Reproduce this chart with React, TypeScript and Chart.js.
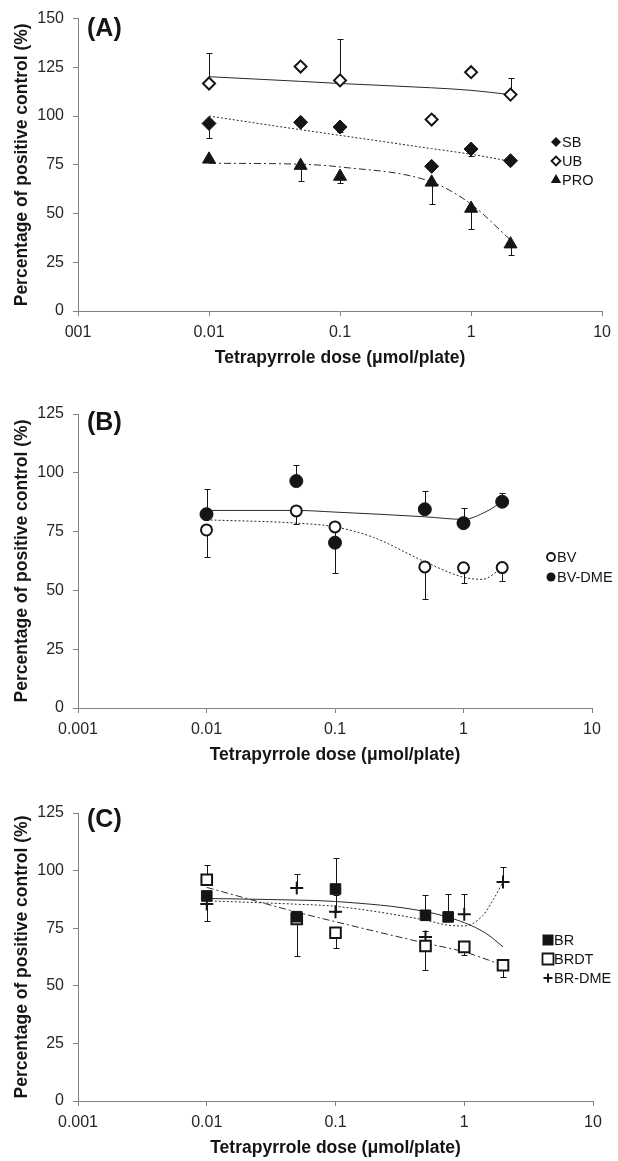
import React, { useEffect, useRef } from 'react';
import { Chart, registerables } from 'chart.js';
Chart.register(...registerables);

type Err = [number, number] | null;

const FONT = "'Liberation Sans', Arial, Helvetica, sans-serif";

// ---------- shared axis data ----------
const xTickValues = [0.001, 0.01, 0.1, 1, 10];
const xTickLabelsA = ['001', '0.01', '0.1', '1', '10'];
const xTickLabelsBC = ['0.001', '0.01', '0.1', '1', '10'];
const xTitle = 'Tetrapyrrole dose (μmol/plate)';
const yTitle = 'Percentage of positive control (%)';

// ---------- Panel A ----------
const doseA = [0.01, 0.05, 0.1, 0.5, 1, 2];
const valSB = [96.2, 96.8, 94.4, 74.2, 83.1, 77.1];
const valUB = [116.7, 125.4, 118.3, 98.2, 122.5, 111.0];
const valPRO = [77.8, 74.6, 69.0, 66.0, 52.6, 34.3];
const errSB: Err[] = [[89.0, 96.2], null, [91.8, 94.4], null, [79.4, 83.1], null];
const errUB: Err[] = [[116.7, 132.5], null, [118.3, 139.7], [98.2, 100.5], null, [111.0, 119.6]];
const errPRO: Err[] = [null, [66.7, 74.6], [65.6, 69.0], [54.8, 66.0], [42.0, 52.6], [28.7, 34.3]];
const fitDoseA = [0.01, 0.05, 0.1, 0.5, 1, 2];
const fitSB = [100.0, 93.0, 90.1, 83.3, 80.4, 76.8];
const fitUB = [120.2, 117.8, 116.7, 114.5, 113.2, 111.0];
const fitPRO = [75.8, 75.3, 73.9, 66.2, 54.8, 36.4];

// ---------- Panel B ----------
const doseB = [0.01, 0.05, 0.1, 0.5, 1, 2];
const valBV = [75.7, 83.8, 77.0, 60.0, 59.6, 59.7];
const valBVDME = [82.4, 96.5, 70.3, 84.5, 78.6, 87.7];
const errBV: Err[] = [[64.0, 75.7], [78.2, 83.8], null, [46.2, 60.0], [53.0, 59.6], [54.0, 59.7]];
const errBVDME: Err[] = [[82.4, 93.0], [96.5, 103.3], [57.3, 77.0], [84.5, 92.3], [78.6, 85.0], [87.7, 91.3]];
const fitDoseBV = [0.01, 0.05, 0.1, 0.2, 0.5, 1, 1.4, 2];
const fitBV = [80.0, 78.6, 77.0, 72.5, 62.2, 55.6, 54.7, 59.6];
const fitDoseBVDME = [0.01, 0.05, 0.1, 0.5, 1, 1.5, 2];
const fitBVDME = [84.0, 84.0, 83.3, 81.3, 80.2, 83.5, 87.7];

// ---------- Panel C ----------
const doseBR = [0.01, 0.05, 0.1, 0.5, 0.75];
const valBR = [89.0, 80.0, 92.0, 80.6, 79.9];
const errBR: Err[] = [null, [62.8, 80.0], [92.0, 105.3], [80.6, 89.3], [79.9, 89.8]];
const doseBRDT = [0.01, 0.05, 0.1, 0.5, 1, 2];
const valBRDT = [96.0, 79.0, 73.0, 67.3, 66.9, 58.9];
const errBRDT: Err[] = [[96.0, 102.5], null, [66.5, 73.0], [57.0, 73.8], [63.3, 66.9], [53.8, 58.9]];
const doseBRDME = [0.01, 0.05, 0.1, 0.5, 1, 2];
const valBRDME = [85.5, 92.4, 82.1, 71.2, 81.1, 95.1];
const errBRDME: Err[] = [[78.2, 85.5], [92.4, 98.6], [82.1, 89.3], null, [81.1, 90.0], [95.1, 101.4]];
const fitDoseBR = [0.01, 0.05, 0.1, 0.5, 1, 1.5, 2];
const fitBR = [87.9, 87.2, 86.6, 82.2, 77.4, 72.5, 66.9];
const fitDoseBRDME = [0.01, 0.05, 0.1, 0.5, 0.75, 1, 1.4, 1.7, 2];
const fitBRDME = [86.9, 85.4, 84.5, 78.5, 76.3, 76.0, 80.6, 87.9, 95.1];
const fitDoseBRDT = [0.01, 0.05, 0.1, 0.5, 1, 2];
const fitBRDT = [92.7, 82.0, 77.8, 68.5, 64.7, 58.9];

// ---------- styling ----------
const INK = '#151515';
const AXIS = '#808080';
const DOTTED = [2, 2];
const DASHDOT = [7, 3, 2, 3];
const SOLID: number[] = [];

interface Series { name: string; x: number[]; y: number[]; err: Err[]; shape: string; filled: boolean; r: number; lr: number; }
interface Fit { x: number[]; y: number[]; dash: number[]; }
interface PanelSpec {
  tag: string; yMax: number; xLabels: string[];
  series: Series[]; fits: Fit[];
  pad: { top: number; right: number; bottom: number };
  legendX: number; legendY: number; legendGap: number; tagDy: number;
}

const panels: { spec: PanelSpec; top: number; height: number }[] = [
  {
    top: 0, height: 380,
    spec: {
      tag: '(A)', yMax: 150, xLabels: xTickLabelsA,
      series: [
        { name: 'SB', x: doseA, y: valSB, err: errSB, shape: 'rectRot', filled: true, r: 7, lr: 5 },
        { name: 'UB', x: doseA, y: valUB, err: errUB, shape: 'rectRot', filled: false, r: 6, lr: 4.5 },
        { name: 'PRO', x: doseA, y: valPRO, err: errPRO, shape: 'triangle', filled: true, r: 7.5, lr: 6 },
      ],
      fits: [
        { x: fitDoseA, y: fitUB, dash: SOLID },
        { x: fitDoseA, y: fitSB, dash: DOTTED },
        { x: fitDoseA, y: fitPRO, dash: DASHDOT },
      ],
      pad: { top: 18, right: 10, bottom: 11 },
      legendX: 556, legendY: 142, legendGap: 19, tagDy: 11,
    },
  },
  {
    top: 380, height: 390,
    spec: {
      tag: '(B)', yMax: 125, xLabels: xTickLabelsBC,
      series: [
        { name: 'BV', x: doseB, y: valBV, err: errBV, shape: 'circle', filled: false, r: 5.5, lr: 4 },
        { name: 'BV-DME', x: doseB, y: valBVDME, err: errBVDME, shape: 'circle', filled: true, r: 6.5, lr: 4.5 },
      ],
      fits: [
        { x: fitDoseBVDME, y: fitBVDME, dash: SOLID },
        { x: fitDoseBV, y: fitBV, dash: DOTTED },
      ],
      pad: { top: 34, right: 26, bottom: 4 },
      legendX: 551, legendY: 177, legendGap: 20, tagDy: 9,
    },
  },
  {
    top: 770, height: 391,
    spec: {
      tag: '(C)', yMax: 125, xLabels: xTickLabelsBC,
      series: [
        { name: 'BR', x: doseBR, y: valBR, err: errBR, shape: 'rect', filled: true, r: 7.5, lr: 5.5 },
        { name: 'BRDT', x: doseBRDT, y: valBRDT, err: errBRDT, shape: 'rect', filled: false, r: 7.5, lr: 5.5 },
        { name: 'BR-DME', x: doseBRDME, y: valBRDME, err: errBRDME, shape: 'cross', filled: false, r: 6.5, lr: 4.5 },
      ],
      fits: [
        { x: fitDoseBR, y: fitBR, dash: SOLID },
        { x: fitDoseBRDME, y: fitBRDME, dash: DOTTED },
        { x: fitDoseBRDT, y: fitBRDT, dash: DASHDOT },
      ],
      pad: { top: 43, right: 25, bottom: 2 },
      legendX: 548, legendY: 170, legendGap: 19, tagDy: 7,
    },
  },
];

function drawMarker(ctx: CanvasRenderingContext2D, shape: string, filled: boolean, x: number, y: number, r: number) {
  ctx.save();
  ctx.beginPath();
  if (shape === 'rectRot') {
    ctx.moveTo(x - r, y); ctx.lineTo(x, y - r); ctx.lineTo(x + r, y); ctx.lineTo(x, y + r); ctx.closePath();
  } else if (shape === 'triangle') {
    ctx.moveTo(x, y - r); ctx.lineTo(x + r * 0.866, y + r * 0.5); ctx.lineTo(x - r * 0.866, y + r * 0.5); ctx.closePath();
  } else if (shape === 'circle') {
    ctx.arc(x, y, r, 0, Math.PI * 2);
  } else if (shape === 'rect') {
    ctx.rect(x - r, y - r, 2 * r, 2 * r);
  }
  if (shape === 'cross') {
    ctx.moveTo(x - r, y); ctx.lineTo(x + r, y); ctx.moveTo(x, y - r); ctx.lineTo(x, y + r);
    ctx.strokeStyle = INK; ctx.lineWidth = 2; ctx.stroke();
  } else if (filled) {
    ctx.fillStyle = INK; ctx.fill();
  } else {
    ctx.fillStyle = '#fff'; ctx.fill();
    ctx.strokeStyle = INK; ctx.lineWidth = 1.8; ctx.stroke();
  }
  ctx.restore();
}

const errorBarPlugin = {
  id: 'errorBars',
  beforeDatasetsDraw(chart: any) {
    const { ctx, scales } = chart;
    const xs = scales.x, ys = scales.y;
    ctx.save();
    ctx.strokeStyle = INK;
    ctx.lineWidth = 1;
    chart.data.datasets.forEach((ds: any) => {
      const errs: Err[] | undefined = ds.errBars;
      if (!errs) return;
      ds.data.forEach((pt: any, i: number) => {
        const e = errs[i];
        if (!e) return;
        const px = Math.round(xs.getPixelForValue(pt.x)) + 0.5;
        const y1 = Math.round(ys.getPixelForValue(e[0])) + 0.5;
        const y2 = Math.round(ys.getPixelForValue(e[1])) + 0.5;
        ctx.beginPath();
        ctx.moveTo(px, y1); ctx.lineTo(px, y2);
        ctx.moveTo(px - 3, y1); ctx.lineTo(px + 3, y1);
        ctx.moveTo(px - 3, y2); ctx.lineTo(px + 3, y2);
        ctx.stroke();
      });
    });
    ctx.restore();
  },
};

function overlayPlugin(p: PanelSpec) {
  return {
    id: 'overlay',
    afterDraw(chart: any) {
      const { ctx, chartArea } = chart;
      ctx.save();
      ctx.fillStyle = INK;
      ctx.textBaseline = 'middle';
      ctx.textAlign = 'left';
      ctx.font = `bold 25px ${FONT}`;
      ctx.fillText(p.tag, chartArea.left + 9, chartArea.top + p.tagDy);
      ctx.font = `14.5px ${FONT}`;
      p.series.forEach((s, i) => {
        const y = p.legendY + i * p.legendGap;
        drawMarker(ctx, s.shape, s.filled, p.legendX, y, s.lr);
        ctx.fillStyle = INK;
        ctx.fillText(s.name, p.legendX + 6, y + 0.5);
      });
      ctx.restore();
    },
  };
}

function buildConfig(p: PanelSpec): any {
  const datasets: any[] = [];
  p.fits.forEach((f) => {
    datasets.push({
      type: 'line',
      data: f.x.map((x, i) => ({ x, y: f.y[i] })),
      borderColor: '#2a2a2a',
      borderWidth: 1,
      borderDash: f.dash,
      pointRadius: 0,
      cubicInterpolationMode: 'monotone',
      fill: false,
      order: 3,
    });
  });
  p.series.forEach((s) => {
    datasets.push({
      type: 'scatter',
      label: s.name,
      data: s.x.map((x, i) => ({ x, y: s.y[i] })),
      showLine: false,
      pointStyle: s.shape,
      pointRadius: s.r,
      pointBackgroundColor: s.filled ? INK : '#ffffff',
      pointBorderColor: INK,
      pointBorderWidth: s.filled && s.shape !== 'cross' ? 1 : 2,
      order: 1,
      errBars: s.err,
    });
  });
  const tickFont = { family: FONT, size: 16 };
  const titleFont = { family: FONT, size: 17.5, weight: 'bold' as const };
  return {
    type: 'scatter',
    data: { datasets },
    options: {
      animation: false,
      responsive: false,
      events: [],
      layout: { padding: { top: p.pad.top, right: p.pad.right, bottom: p.pad.bottom, left: 0 } },
      plugins: { legend: { display: false }, tooltip: { enabled: false } },
      scales: {
        x: {
          type: 'logarithmic',
          min: 0.001,
          max: 10,
          afterBuildTicks: (scale: any) => {
            scale.ticks = xTickValues.map((v) => ({ value: v }));
          },
          afterFit: (scale: any) => { scale.height = 58; },
          ticks: {
            autoSkip: false,
            maxRotation: 0,
            padding: 7,
            font: tickFont,
            color: '#262626',
            callback: (_v: any, i: number) => p.xLabels[i],
          },
          grid: { drawOnChartArea: false, drawTicks: true, tickLength: 5, color: AXIS },
          border: { color: AXIS, width: 1 },
          title: { display: true, text: xTitle, font: titleFont, color: INK, padding: { top: 0, bottom: 0 } },
        },
        y: {
          type: 'linear',
          min: 0,
          max: p.yMax,
          afterFit: (scale: any) => { scale.width = 78; },
          ticks: { stepSize: 25, padding: 9, font: tickFont, color: '#262626' },
          grid: { drawOnChartArea: false, drawTicks: true, tickLength: 5, color: AXIS },
          border: { color: AXIS, width: 1 },
          title: { display: true, text: yTitle, font: titleFont, color: INK, padding: { top: 12, bottom: 0 } },
        },
      },
    },
    plugins: [errorBarPlugin, overlayPlugin(p)],
  };
}

function Panel({ spec, top, height }: { spec: PanelSpec; top: number; height: number }) {
  const ref = useRef<HTMLCanvasElement>(null);
  useEffect(() => {
    if (!ref.current) return;
    const chart = new Chart(ref.current, buildConfig(spec));
    return () => chart.destroy();
  }, [spec]);
  return (
    <div style={{ position: 'absolute', left: 0, top, width: 618, height }}>
      <canvas ref={ref} width={618} height={height} style={{ display: 'block', width: 618, height }} />
    </div>
  );
}

export default function App() {
  return (
    <div style={{ position: 'absolute', left: 0, top: 0, width: 618, height: 1161, background: '#fff' }}>
      {panels.map((pn, i) => (
        <Panel key={i} spec={pn.spec} top={pn.top} height={pn.height} />
      ))}
    </div>
  );
}
